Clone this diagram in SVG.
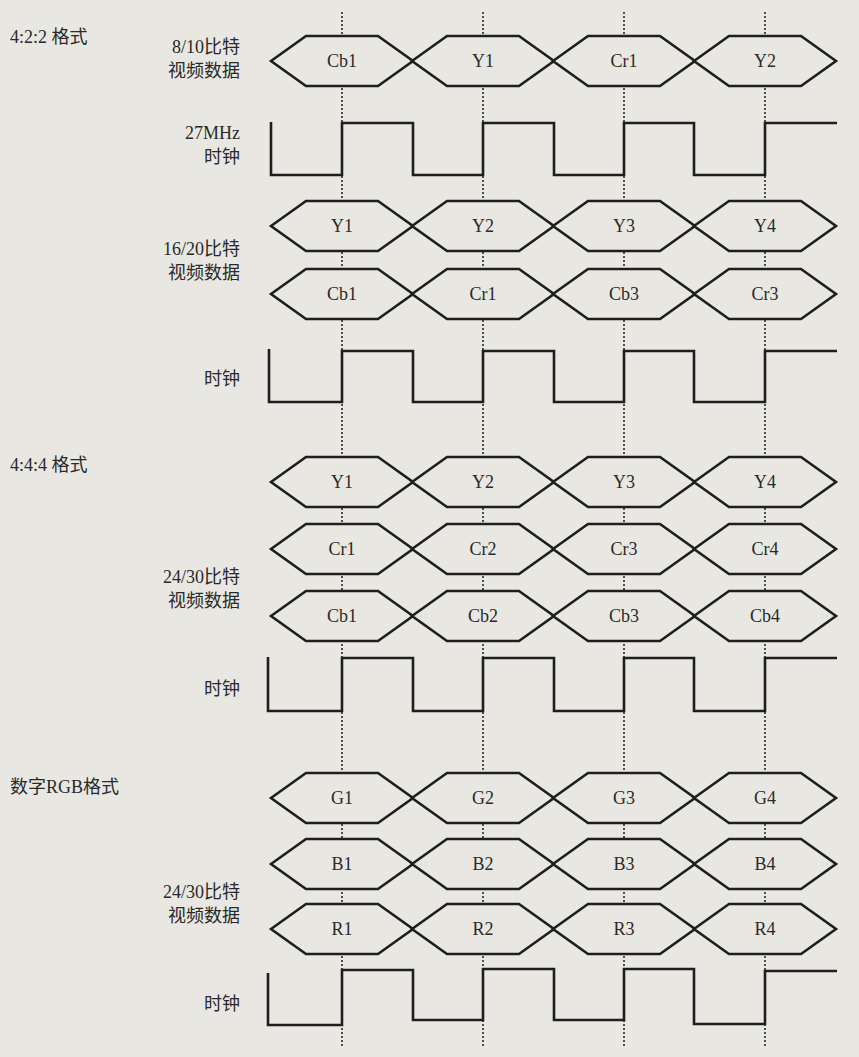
<svg xmlns="http://www.w3.org/2000/svg" xmlns:xlink="http://www.w3.org/1999/xlink" width="859" height="1057" viewBox="0 0 859 1057">
<style>
.bg{fill:#e8e7e2}
.guide{stroke:#2a2a2a;stroke-width:1.6;stroke-dasharray:2,2;fill:none}
.hex{fill:#e8e7e2;stroke:#1e1e1e;stroke-width:2.6;stroke-linejoin:miter}
.clk{fill:none;stroke:#1e1e1e;stroke-width:2.6;stroke-linejoin:miter}
.t{font-family:"Liberation Serif","Noto Sans CJK SC",serif;font-size:18px;fill:#2a2a2a}
.c{text-anchor:middle}
.r{text-anchor:end}
</style>
<defs>
<polygon id="hexshape" points="-71,0 -36,-25 36,-25 71,0 36,25 -36,25"/>
</defs>
<rect class="bg" x="0" y="0" width="859" height="1057"/>
<g id="guides">
<line class="guide" x1="342" y1="12" x2="342" y2="1047"/>
<line class="guide" x1="483" y1="12" x2="483" y2="1047"/>
<line class="guide" x1="624" y1="12" x2="624" y2="1047"/>
<line class="guide" x1="765" y1="12" x2="765" y2="1047"/>
</g>
<g id="labels">
<text class="t" x="10" y="43">4:2:2 格式</text>
<text class="t r" x="240" y="53">8/10比特</text>
<text class="t r" x="240" y="77">视频数据</text>
<text class="t r" x="240" y="139">27MHz</text>
<text class="t r" x="240" y="163">时钟</text>
<text class="t r" x="240" y="255">16/20比特</text>
<text class="t r" x="240" y="279">视频数据</text>
<text class="t r" x="240" y="385">时钟</text>
<text class="t" x="10" y="471">4:4:4 格式</text>
<text class="t r" x="240" y="583">24/30比特</text>
<text class="t r" x="240" y="607">视频数据</text>
<text class="t r" x="240" y="695">时钟</text>
<text class="t" x="10" y="793">数字RGB格式</text>
<text class="t r" x="240" y="898">24/30比特</text>
<text class="t r" x="240" y="922">视频数据</text>
<text class="t r" x="240" y="1010">时钟</text>
</g>
<g id="row-422-data">
<use class="hex" href="#hexshape" x="342" y="61"/><use class="hex" href="#hexshape" x="483" y="61"/><use class="hex" href="#hexshape" x="624" y="61"/><use class="hex" href="#hexshape" x="765" y="61"/>
<text class="t c" x="342" y="67">Cb1</text><text class="t c" x="483" y="67">Y1</text><text class="t c" x="624" y="67">Cr1</text><text class="t c" x="765" y="67">Y2</text>
</g>
<g id="clock-422">
<path class="clk" d="M271,122 V175 H342 V123 H413 V175 H483 V123 H554 V175 H624 V123 H694 V175 H765 V123 H837"/>
</g>
<g id="row-1620-y">
<use class="hex" href="#hexshape" x="342" y="226"/><use class="hex" href="#hexshape" x="483" y="226"/><use class="hex" href="#hexshape" x="624" y="226"/><use class="hex" href="#hexshape" x="765" y="226"/>
<text class="t c" x="342" y="232">Y1</text><text class="t c" x="483" y="232">Y2</text><text class="t c" x="624" y="232">Y3</text><text class="t c" x="765" y="232">Y4</text>
</g>
<g id="row-1620-c">
<use class="hex" href="#hexshape" x="342" y="294"/><use class="hex" href="#hexshape" x="483" y="294"/><use class="hex" href="#hexshape" x="624" y="294"/><use class="hex" href="#hexshape" x="765" y="294"/>
<text class="t c" x="342" y="300">Cb1</text><text class="t c" x="483" y="300">Cr1</text><text class="t c" x="624" y="300">Cb3</text><text class="t c" x="765" y="300">Cr3</text>
</g>
<g id="clock-1620">
<path class="clk" d="M269,349 V402 H342 V351 H413 V402 H483 V351 H554 V402 H624 V351 H694 V402 H765 V351 H837"/>
</g>
<g id="row-444-y">
<use class="hex" href="#hexshape" x="342" y="482"/><use class="hex" href="#hexshape" x="483" y="482"/><use class="hex" href="#hexshape" x="624" y="482"/><use class="hex" href="#hexshape" x="765" y="482"/>
<text class="t c" x="342" y="488">Y1</text><text class="t c" x="483" y="488">Y2</text><text class="t c" x="624" y="488">Y3</text><text class="t c" x="765" y="488">Y4</text>
</g>
<g id="row-444-cr">
<use class="hex" href="#hexshape" x="342" y="549"/><use class="hex" href="#hexshape" x="483" y="549"/><use class="hex" href="#hexshape" x="624" y="549"/><use class="hex" href="#hexshape" x="765" y="549"/>
<text class="t c" x="342" y="555">Cr1</text><text class="t c" x="483" y="555">Cr2</text><text class="t c" x="624" y="555">Cr3</text><text class="t c" x="765" y="555">Cr4</text>
</g>
<g id="row-444-cb">
<use class="hex" href="#hexshape" x="342" y="616"/><use class="hex" href="#hexshape" x="483" y="616"/><use class="hex" href="#hexshape" x="624" y="616"/><use class="hex" href="#hexshape" x="765" y="616"/>
<text class="t c" x="342" y="622">Cb1</text><text class="t c" x="483" y="622">Cb2</text><text class="t c" x="624" y="622">Cb3</text><text class="t c" x="765" y="622">Cb4</text>
</g>
<g id="clock-444">
<path class="clk" d="M268,657 V711 H342 V658 H413 V711 H483 V658 H554 V711 H624 V658 H694 V711 H765 V658 H837"/>
</g>
<g id="row-rgb-g">
<use class="hex" href="#hexshape" x="342" y="798"/><use class="hex" href="#hexshape" x="483" y="798"/><use class="hex" href="#hexshape" x="624" y="798"/><use class="hex" href="#hexshape" x="765" y="798"/>
<text class="t c" x="342" y="804">G1</text><text class="t c" x="483" y="804">G2</text><text class="t c" x="624" y="804">G3</text><text class="t c" x="765" y="804">G4</text>
</g>
<g id="row-rgb-b">
<use class="hex" href="#hexshape" x="342" y="864"/><use class="hex" href="#hexshape" x="483" y="864"/><use class="hex" href="#hexshape" x="624" y="864"/><use class="hex" href="#hexshape" x="765" y="864"/>
<text class="t c" x="342" y="870">B1</text><text class="t c" x="483" y="870">B2</text><text class="t c" x="624" y="870">B3</text><text class="t c" x="765" y="870">B4</text>
</g>
<g id="row-rgb-r">
<use class="hex" href="#hexshape" x="342" y="929"/><use class="hex" href="#hexshape" x="483" y="929"/><use class="hex" href="#hexshape" x="624" y="929"/><use class="hex" href="#hexshape" x="765" y="929"/>
<text class="t c" x="342" y="935">R1</text><text class="t c" x="483" y="935">R2</text><text class="t c" x="624" y="935">R3</text><text class="t c" x="765" y="935">R4</text>
</g>
<g id="clock-rgb">
<path class="clk" d="M268,973 V1025 H342 V970 H413 V1020 H483 V969 H554 V1020 H624 V969 H694 V1024 H765 V971 H837"/>
</g>
</svg>
